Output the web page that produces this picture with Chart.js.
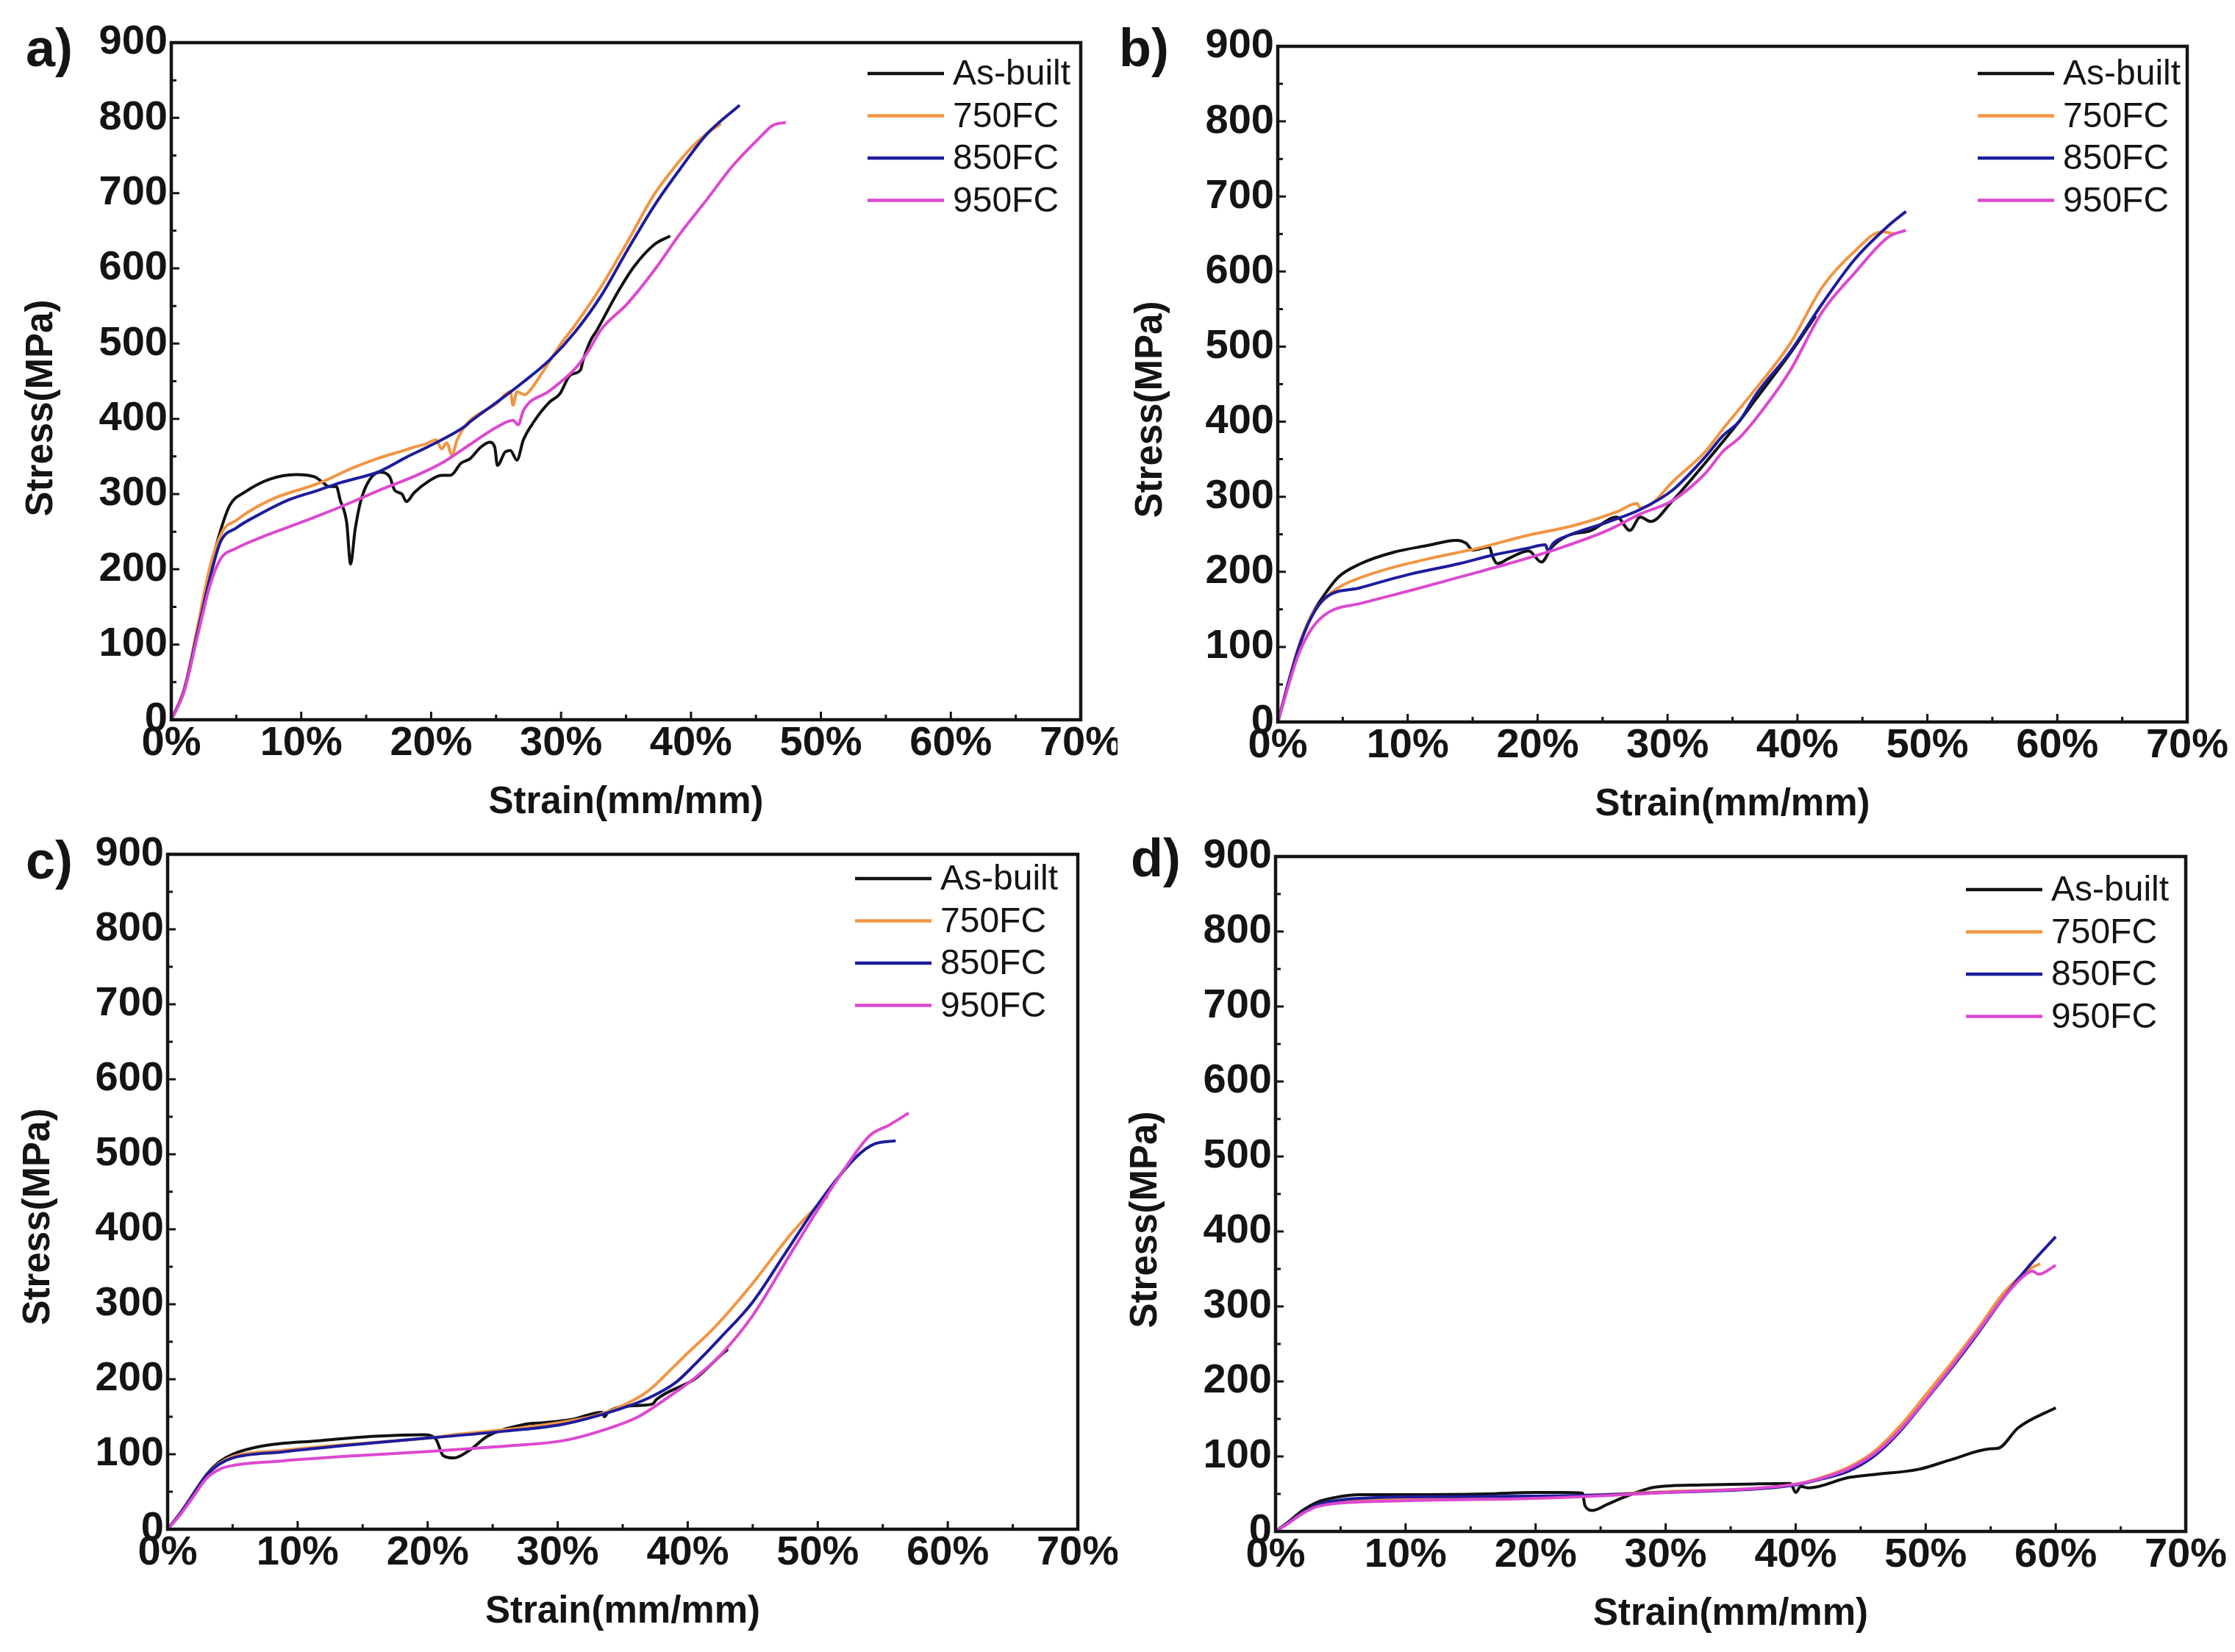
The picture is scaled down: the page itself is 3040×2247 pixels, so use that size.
<!DOCTYPE html>
<html>
<head>
<meta charset="utf-8">
<title>Stress-strain curves</title>
<script src="https://cdn.jsdelivr.net/npm/chart.js@4.4.1/dist/chart.umd.min.js"></script>
<style>
  html, body { margin: 0; padding: 0; background: #fff; }
  #page { position: relative; width: 3040px; height: 2247px; }
  #page canvas { position: absolute; }
</style>
</head>
<body>
<div id="page">
  <canvas id="chartA" width="1520" height="1123" style="left:0;top:0"></canvas>
  <canvas id="chartB" width="1520" height="1123" style="left:1520px;top:0"></canvas>
  <canvas id="chartC" width="1520" height="1124" style="left:0;top:1123px"></canvas>
  <canvas id="chartD" width="1520" height="1124" style="left:1520px;top:1123px"></canvas>
</div>
<script>
// series names / colours (legend order)
const seriesNames = ['As-built', '750FC', '850FC', '950FC'];
const seriesColors = ['#111111', '#F29543', '#1D1C9C', '#DD48CF'];

// tick labels
const strainTicks = ['0%', '10%', '20%', '30%', '40%', '50%', '60%', '70%'];
const stressTicks = ['0', '100', '200', '300', '400', '500', '600', '700', '800', '900'];

// [strain %, stress MPa]
// a)
const a_asBuilt = [[0,0],[1,40],[2,118],[3,200],[3.8,252],[4.5,285],[5.7,303],[7.6,320],[9.6,326],[11,323],[11.7,315],[12.1,310],[12.7,310],[13,292],[13.5,262],[13.8,207],[14.15,253],[14.6,292],[15.3,320],[16.1,329],[16.8,323],[17.2,305],[17.75,300],[18.1,290],[18.7,302],[19.8,317],[20.8,325],[21.5,325],[22.3,341],[23,347],[23.8,362],[24.5,369],[24.9,362],[25.1,338],[25.7,356],[26.1,358],[26.6,345],[27.1,372],[27.9,396],[29.1,422],[29.9,433],[30.7,458],[31.5,465],[31.7,478],[32.3,505],[32.7,516],[34.35,568],[35.6,602],[37.2,632],[38.4,643]];
const a_750 = [[0,0],[1,42],[2,122],[3,205],[4,252],[5,265],[6,277],[8,295],[11.3,314],[14,335],[16,348],[18.1,359],[18.6,362],[19.5,366],[20.4,372],[20.8,360],[21.2,368],[21.6,352],[22,372],[22.6,390],[23,398],[25,420],[26.1,436],[26.3,418],[26.6,436],[27.2,432],[27.8,442],[28.5,460],[30,500],[31.1,525],[33.1,576],[35.1,635],[37.2,699],[38.8,736],[40,760],[41.2,779],[42.3,792]];
const a_850 = [[0,0],[1,40],[2,115],[3,190],[3.8,237],[5,255],[7,275],[9,292],[11.3,305],[13,315],[16,330],[18.1,349],[20,365],[22.6,390],[23,396],[25.05,422],[27.1,449],[29.1,478],[31.1,516],[33.1,564],[35.1,624],[37.2,684],[39.2,733],[41.2,778],[43.75,817]];
const a_950 = [[0,0],[1,38],[2,110],[3,180],[3.8,214],[5,228],[7,243],[9,256],[11.3,271],[14,290],[16,305],[18.9,325],[21,343],[23,366],[25.05,389],[26.3,398],[26.7,392],[27.1,411],[29.1,437],[31.1,467],[32.1,490],[33.1,519],[35.1,553],[37.2,598],[39.2,647],[41.2,691],[43.2,736],[45.3,774],[46.3,790],[47.3,794]];
// b)
const b_asBuilt = [[0,0],[1.6,99],[2.6,142],[3.65,171],[4.66,193],[6.4,211],[8.9,226],[11.5,235],[13.75,242],[14.5,238],[15,229],[16.3,233],[16.5,222],[16.9,211],[17.8,218],[19.3,228],[20.3,213],[21.1,233],[22.3,248],[24.1,255],[26.1,273],[27.1,255],[27.9,273],[28.7,267],[30.4,295],[32.9,345],[35.5,400],[36.8,430],[39.4,490],[41.4,541]];
const b_750 = [[0,0],[1.6,100],[2.6,142],[3.65,165],[4.66,179],[7.7,200],[11.5,217],[15.3,231],[19.1,248],[22.85,262],[26.1,280],[27.65,291],[27.9,285],[28.8,291],[30.4,320],[32.9,360],[34.3,391],[36.8,444],[39.4,503],[41.9,579],[44.4,627],[46.5,653],[47.5,650]];
const b_850 = [[0,0],[1.6,98],[2.6,140],[3.65,165],[6.4,179],[10.2,197],[14,211],[16.5,222],[19.1,231],[20.6,236],[20.8,228],[21.2,238],[22.3,248],[25.35,266],[27.9,283],[30.4,309],[32.9,353],[34.3,382],[35.5,400],[36.8,436],[39.4,492],[41.9,557],[44.4,616],[47,661],[48.35,680]];
const b_950 = [[0,0],[1.6,90],[2.6,124],[3.9,146],[6.4,158],[10.2,175],[14,193],[17.8,211],[21.6,231],[25.35,255],[27.9,277],[30.4,295],[32.9,331],[34.3,361],[35.5,378],[36.8,404],[39.4,467],[41.9,546],[44.4,598],[47,646],[48.35,655]];
// c)
const c_asBuilt = [[0,0],[1,22],[2,48],[3,73],[4,90],[5,100],[7.3,111],[11.6,118],[16,124],[19.7,126],[20.6,121],[21.2,98],[22,95],[23.2,105],[24.6,124],[27.5,140],[28.9,142],[31,146],[33.4,156],[33.6,150],[33.9,157],[36.2,165],[37.3,167],[37.6,173],[40.6,201],[42.8,236],[43.1,240]];
const c_750 = [[0,0],[1,22],[2,47],[3,72],[4,88],[5,97],[8.8,105],[14.5,114],[20.3,122],[22,126],[26.1,133],[30.4,143],[33,152],[35,165],[37,185],[39,218],[40,235],[42,268],[45,328],[48,395],[50,432],[50.8,444]];
const c_850 = [[0,0],[1,22],[2,47],[3,72],[4,87],[5,95],[8.76,103],[14.5,113],[20.3,122],[26.1,131],[30.4,140],[34.7,160],[37,175],[39.1,196],[40.5,219],[42.5,255],[45,303],[47.5,368],[50,433],[53,497],[54.4,514],[56,518]];
const c_950 = [[0,0],[1,20],[2,44],[3,68],[4,80],[5,85],[8.76,91],[14.5,98],[20.3,104],[26.1,111],[30.4,118],[33.3,131],[36.2,150],[38.5,176],[40.5,201],[42.5,232],[45,285],[48,370],[50,426],[52,479],[54,525],[55.5,539],[57,555]];
// d)
const d_asBuilt = [[0,0],[1,13],[2,27],[3.2,39],[4.5,45],[6.5,49],[10,49],[16.2,50],[20,52],[22,52],[23.6,51],[23.8,34],[24.4,28],[25.5,36],[26.7,45],[29.2,59],[32.8,62],[36,63],[39.6,64],[40,52],[40.4,60],[41,58],[44.1,72],[46.1,76],[49.5,83],[52,96],[54.9,110],[55.6,111],[57.1,138],[60,165]];
const d_750 = [[0,0],[1,12],[2,24],[3,33],[4,37],[5,40],[10,44],[20,46],[30,53],[40,63],[42,72],[44,85],[46,106],[48,140],[50,182],[52,225],[54,270],[56,318],[58,350],[58.8,357]];
const d_850 = [[0,0],[1,12],[2,24],[3,34],[4,39],[5,42],[10,46],[20,47],[30,52],[40,62],[42,70],[44,80],[46,100],[48,133],[50,175],[52,218],[54,264],[56,312],[58,355],[60,393]];
const d_950 = [[0,0],[1,11],[2,23],[3,32],[4,36],[5,38],[10,41],[20,44],[30,52],[40,63],[42,71],[44,83],[46,103],[48,135],[50,176],[52,220],[54,266],[56,312],[57.5,340],[58.2,347],[58.7,343],[60,355]];

// layout of each panel, in canvas pixels
const panels = [
  { id: 'chartA', letter: 'a)', series: [a_asBuilt, a_750, a_850, a_950],
    area: { left: 233, top: 58, right: 1470, bottom: 979 },
    letterAt: [35, 90], yTitleAt: [57, 555], legendAt: [1180, 100] },
  { id: 'chartB', letter: 'b)', series: [b_asBuilt, b_750, b_850, b_950],
    area: { left: 218, top: 63, right: 1455, bottom: 982 },
    letterAt: [2, 90], yTitleAt: [46, 557], legendAt: [1170, 100] },
  { id: 'chartC', letter: 'c)', series: [c_asBuilt, c_750, c_850, c_950],
    area: { left: 228, top: 39, right: 1466, bottom: 957 },
    letterAt: [35, 72], yTitleAt: [53, 532], legendAt: [1163, 72] },
  { id: 'chartD', letter: 'd)', series: [d_asBuilt, d_750, d_850, d_950],
    area: { left: 215, top: 42, right: 1453, bottom: 960 },
    letterAt: [18, 69], yTitleAt: [39, 536], legendAt: [1154, 87] },
];

const TICK_FONT = "'Liberation Sans', Arial, sans-serif";
const TEXT_FONT = "'Liberation Sans', Arial, sans-serif";
const INK = '#141414';
const X_AXIS_H = 100;

// frame + inward ticks (Origin style)
const framePlugin = {
  id: 'frame',
  afterDatasetsDraw(chart) {
    const { ctx, chartArea: ca, scales } = chart;
    const x = scales.x, y = scales.y;
    ctx.save();
    ctx.strokeStyle = INK;
    ctx.lineWidth = 3;
    ctx.beginPath();
    for (let v = 0; v <= 70; v += 5) {
      const px = x.getPixelForValue(v);
      const len = v % 10 === 0 ? 11 : 7;
      ctx.moveTo(px, ca.bottom);
      ctx.lineTo(px, ca.bottom - len);
    }
    for (let v = 0; v <= 900; v += 50) {
      const py = y.getPixelForValue(v);
      const len = v % 100 === 0 ? 11 : 7;
      ctx.moveTo(ca.left, py);
      ctx.lineTo(ca.left + len, py);
    }
    ctx.stroke();
    ctx.lineWidth = 4.5;
    ctx.strokeRect(ca.left, ca.top, ca.right - ca.left, ca.bottom - ca.top);
    ctx.restore();
  }
};

// panel letter, axis titles, legend
const textPlugin = {
  id: 'panelText',
  afterDraw(chart, args, opts) {
    const { ctx, chartArea: ca } = chart;
    ctx.save();
    ctx.fillStyle = INK;
    ctx.textBaseline = 'alphabetic';
    ctx.textAlign = 'left';
    ctx.font = 'bold 72px ' + TEXT_FONT;
    ctx.fillText(opts.letter, opts.letterAt[0], opts.letterAt[1]);

    ctx.font = 'bold 51px ' + TEXT_FONT;
    ctx.textAlign = 'center';
    ctx.textBaseline = 'middle';
    ctx.fillText('Strain(mm/mm)', (ca.left + ca.right) / 2, ca.bottom + 113);
    ctx.save();
    ctx.translate(opts.yTitleAt[0], opts.yTitleAt[1]);
    ctx.rotate(-Math.PI / 2);
    ctx.fillText('Stress(MPa)', 0, 0);
    ctx.restore();

    // legend
    const [lx, ly] = opts.legendAt;
    ctx.font = '48px ' + TEXT_FONT;
    ctx.textAlign = 'left';
    seriesNames.forEach((name, i) => {
      const yy = ly + i * 57.5;
      ctx.strokeStyle = seriesColors[i];
      ctx.lineWidth = 4.5;
      ctx.beginPath();
      ctx.moveTo(lx, yy);
      ctx.lineTo(lx + 104, yy);
      ctx.stroke();
      ctx.fillStyle = INK;
      ctx.fillText(name, lx + 116, yy + 2);
    });
    ctx.restore();
  }
};

panels.forEach(p => {
  const canvas = document.getElementById(p.id);
  const W = canvas.width, H = canvas.height;
  const datasets = p.series.map((pts, i) => ({
    label: seriesNames[i],
    data: pts.map(([sx, sy]) => ({ x: sx, y: sy })),
    borderColor: seriesColors[i],
    borderWidth: 4,
    pointRadius: 0,
    fill: false,
    cubicInterpolationMode: 'monotone',
    order: seriesNames.length - i,
  }));

  new Chart(canvas, {
    type: 'line',
    data: { datasets },
    options: {
      responsive: false,
      animation: false,
      devicePixelRatio: 1,
      events: [],
      layout: {
        padding: { left: 0, top: p.area.top, right: W - p.area.right, bottom: H - p.area.bottom - X_AXIS_H }
      },
      plugins: {
        legend: { display: false },
        tooltip: { enabled: false },
        panelText: { letter: p.letter, letterAt: p.letterAt, yTitleAt: p.yTitleAt, legendAt: p.legendAt }
      },
      scales: {
        x: {
          type: 'linear', min: 0, max: 70,
          grid: { display: false, drawTicks: false },
          border: { display: false },
          ticks: {
            stepSize: 10, autoSkip: false, maxRotation: 0, padding: 9, color: INK,
            font: { family: TICK_FONT, size: 56, weight: 'bold', lineHeight: 0.85 },
            callback: (v, idx) => strainTicks[idx]
          },
          afterFit: s => { s.height = X_AXIS_H; s.paddingLeft = 0; s.paddingRight = 0; }
        },
        y: {
          type: 'linear', min: 0, max: 900,
          grid: { display: false, drawTicks: false },
          border: { display: false },
          ticks: {
            stepSize: 100, autoSkip: false, padding: 5, color: INK,
            font: { family: TICK_FONT, size: 56, weight: 'bold', lineHeight: 1 },
            callback: (v, idx) => stressTicks[idx]
          },
          afterFit: s => { s.width = p.area.left; s.paddingTop = 0; s.paddingBottom = 0; }
        }
      }
    },
    plugins: [framePlugin, textPlugin]
  });
});
</script>
</body>
</html>
